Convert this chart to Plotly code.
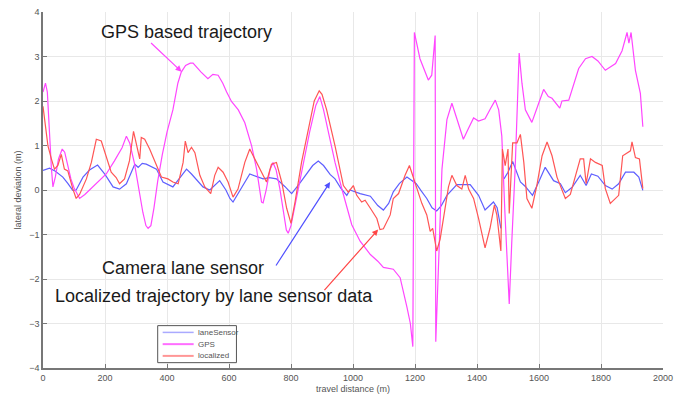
import plotly.graph_objects as go

# laneSensor (blue)
lane_x = [0, 21, 40, 64, 80, 96, 107, 129, 150, 172, 176, 200, 226, 247, 269, 296, 307, 320, 333, 366, 387, 419, 440, 463, 479, 500, 516, 538, 570, 590, 603, 613, 640, 667, 690, 710, 730, 753, 780, 802, 825, 850, 870, 888, 905, 926, 942, 960, 980, 990, 1023, 1056, 1080, 1098, 1115, 1130, 1150, 1174, 1204, 1220, 1238, 1255, 1270, 1285, 1303, 1335, 1378, 1405, 1426, 1453, 1465, 1477,
          None,
          1487, 1500, 1515, 1540, 1556, 1579, 1599, 1620, 1647, 1669, 1685, 1707, 1733, 1752, 1769, 1790, 1814, 1836, 1857, 1879, 1906, 1922, 1935]
lane_y = [0.44, 0.49, 0.42, 0.29, 0.15, -0.01, 0.0, 0.29, 0.45, 0.55, 0.56, 0.35, 0.07, 0.02, 0.14, 0.58, 0.51, 0.6, 0.58, 0.47, 0.18, 0.07, 0.25, 0.47, 0.36, 0.2, 0.07, 0.0, 0.21, 0.0, -0.19, -0.27, 0.05, 0.36, 0.3, 0.25, 0.28, 0.25, 0.08, -0.08, 0.12, 0.36, 0.55, 0.65, 0.55, 0.35, 0.25, 0.05, -0.12, 0.0, -0.08, -0.14, -0.35, -0.45, -0.3, -0.04, 0.15, 0.29, 0.14, -0.02, -0.19, -0.4, -0.47, -0.35, -0.12, 0.12, 0.12, -0.12, -0.45, -0.27, -0.4, -0.86,
          None,
          0.25, 0.4, 0.64, 0.18, 0.08, -0.12, 0.18, 0.51, 0.21, 0.14, -0.06, 0.06, 0.33, 0.10, 0.36, 0.31, 0.10, 0.02, 0.14, 0.40, 0.40, 0.29, -0.01]

# GPS (magenta)
gps_x = [0, 8, 14, 20, 27, 32, 40, 50, 62, 70, 80, 90, 100, 118, 135, 150, 175, 204, 230, 255, 269, 280, 295, 310, 322, 332, 339, 348, 358, 370, 385, 400, 419, 435, 446, 460, 475, 484, 490, 510, 532, 548, 565, 580, 592, 608, 630, 651, 673, 689, 705, 710, 720, 732, 742, 752, 764, 775, 785, 791, 800, 820, 840, 860, 880, 893, 905, 920, 942, 965, 980, 996, 1023, 1056, 1080, 1098, 1130, 1152, 1174, 1185, 1193, 1198, 1216, 1243, 1254, 1265, 1267, 1278, 1287, 1303, 1319, 1335, 1356, 1370, 1389, 1405, 1426, 1445, 1459, 1470, 1480, 1490, 1502, 1504, 1512, 1523, 1536, 1545, 1556, 1577, 1599, 1615, 1630, 1642, 1667, 1674, 1696, 1728, 1750, 1771, 1790, 1814, 1847, 1868, 1884, 1890, 1897, 1911, 1927, 1935]
gps_y = [2.2, 2.4, 2.2, 1.3, 0.5, 0.07, 0.3, 0.7, 0.92, 0.85, 0.55, 0.25, 0.05, -0.19, -0.1, 0.0, 0.15, 0.36, 0.65, 0.95, 1.21, 1.05, 0.6, 0.0, -0.5, -0.8, -0.86, -0.8, -0.4, 0.2, 0.8, 1.3, 1.8, 2.4, 2.65, 2.8, 2.85, 2.85, 2.8, 2.65, 2.5, 2.6, 2.58, 2.4, 2.21, 1.99, 1.8, 1.51, 0.99, 0.47, -0.27, -0.29, 0.0, 0.45, 0.62, 0.45, 0.03, -0.5, -0.9, -0.97, -0.8, -0.1, 0.6, 1.3, 1.9, 2.1, 1.8, 1.3, 0.62, 0.0, -0.4, -0.78, -1.15, -1.45, -1.6, -1.74, -1.78, -1.97, -2.63, -3.0, -3.52, 3.54, 2.95, 2.47, 2.58, 3.47, -3.41, -1.5, 0.47, 1.58, 1.95, 1.6, 1.14, 1.35, 1.62, 1.55, 1.6, 1.85, 2.02, 1.8, 1.21, -0.5, -2.48, -2.56, -1.2, 0.47, 3.08, 2.4, 1.8, 1.52, 1.95, 2.26, 2.1, 2.06, 1.84, 2.0, 2.02, 2.73, 2.95, 3.0, 2.9, 2.69, 2.84, 3.13, 3.54, 3.3, 3.54, 2.69, 2.17, 1.42]

# localized (red)
loc_x = [0, 16, 27, 37, 48, 59, 69, 80, 96, 107, 118, 140, 156, 172, 188, 204, 220, 236, 247, 263, 279, 292, 301, 312, 317, 328, 344, 360, 382, 403, 419, 436, 452, 459, 468, 479, 490, 506, 522, 541, 554, 565, 581, 597, 613, 629, 651, 667, 683, 705, 721, 737, 753, 770, 786, 800, 813, 834, 861, 875, 891, 900, 915, 942, 969, 985, 1001, 1012, 1028, 1039, 1056, 1077, 1087, 1098, 1120, 1130, 1147, 1168, 1182, 1195, 1211, 1222, 1238, 1249, 1257, 1270, 1281, 1297, 1308, 1319, 1335, 1351, 1362, 1373, 1389, 1405, 1426, 1442, 1456, 1464, 1477, 1482, 1491, 1500, 1504, 1515, 1529, 1540, 1551, 1561, 1577, 1593, 1610, 1626, 1642, 1658, 1674, 1685, 1701, 1717, 1733, 1744, 1752, 1766, 1782, 1804, 1814, 1830, 1857, 1870, 1884, 1895, 1900, 1911, 1924, 1935]
loc_y = [1.88, 0.99, 0.7, 0.47, 0.55, 0.8, 0.47, 0.43, 0.03, -0.19, -0.1, 0.25, 0.62, 1.14, 1.1, 0.77, 0.4, 0.28, 0.14, 0.25, 0.66, 1.32, 1.07, 0.7, 1.18, 1.14, 0.92, 0.66, 0.29, 0.25, 0.18, 0.14, 0.62, 1.1, 0.84, 0.96, 0.84, 0.33, 0.07, -0.08, 0.33, 0.51, 0.4, 0.18, -0.16, 0.02, 0.62, 0.92, 0.7, 0.4, 0.18, 0.58, 0.62, 0.18, -0.41, -0.75, -0.27, 0.62, 1.58, 2.0, 2.23, 2.15, 1.8, 0.99, 0.1, -0.05, 0.1, -0.12, -0.27, -0.23, -0.41, -0.64, -0.89, -0.87, -0.56, -0.19, -0.08, 0.33, 0.55, 0.29, -0.04, -0.3, -0.56, -0.93, -0.86, -1.37, -1.11, -0.41, 0.07, 0.33, 0.1, 0.02, 0.33, 0.02, -0.19, -0.64, -1.3, -0.86, -0.34, -0.56, -1.37, 0.92, 0.55, 0.92, -0.53, 1.06, 1.06, 1.25, 0.62, -0.19, -0.41, 0.1, 0.77, 1.08, 0.77, 0.29, 0.03, -0.19, -0.1, 0.33, 0.7, 0.7, 0.14, 0.7, 0.62, 0.55, 0.03, -0.3, -0.12, 0.77, 0.84, 0.88, 1.08, 0.73, 0.7, 0.03]

x_ticks = [0, 200, 400, 600, 800, 1000, 1200, 1400, 1600, 1800, 2000]
y_ticks = [-4, -3, -2, -1, 0, 1, 2, 3, 4]
series_names = ["laneSensor", "GPS", "localized"]
series_colors = ["rgb(95,95,255)", "rgb(255,70,255)", "rgb(255,85,85)"]
legend_colors = ["rgb(170,170,255)", "rgb(255,110,255)", "rgb(255,150,150)"]

fig = go.Figure()
for (xs, ys), name, col in zip([(lane_x, lane_y), (gps_x, gps_y), (loc_x, loc_y)], series_names, series_colors):
    fig.add_trace(go.Scatter(x=xs, y=ys, mode="lines", name=name,
                             line=dict(color=col, width=1.2), connectgaps=False))

ann_font = dict(family="Liberation Sans, Arial", size=18, color="#1a1a1a")
fig.add_annotation(x=447, y=2.66, ax=-32, ay=-30, xref="x", yref="y", text="",
                   showarrow=True, arrowhead=2, arrowsize=1, arrowwidth=1.2, arrowcolor="rgb(255,70,255)")
fig.add_annotation(x=926, y=0.18, ax=-55, ay=85, xref="x", yref="y", text="",
                   showarrow=True, arrowhead=2, arrowsize=1, arrowwidth=1.2, arrowcolor="rgb(80,80,255)")
fig.add_annotation(x=1081, y=-0.89, ax=-55, ay=62, xref="x", yref="y", text="",
                   showarrow=True, arrowhead=2, arrowsize=1, arrowwidth=1.2, arrowcolor="rgb(255,70,70)")
fig.add_annotation(x=464, y=3.55, xref="x", yref="y", text="GPS based trajectory",
                   showarrow=False, font=ann_font)
fig.add_annotation(x=451, y=-1.75, xref="x", yref="y", text="Camera lane sensor",
                   showarrow=False, font=ann_font)
fig.add_annotation(x=553, y=-2.39, xref="x", yref="y", text="Localized trajectory by lane sensor data",
                   showarrow=False, font=ann_font)

# compact legend box (MATLAB-style), drawn in paper coordinates
fig.add_shape(type="rect", xref="paper", yref="paper", x0=0.185, x1=0.312, y0=0.015, y1=0.119,
              line=dict(color="#555", width=1), fillcolor="white", layer="above")
for i, (name, col) in enumerate(zip(series_names, legend_colors)):
    yy = 0.1 - i * 0.033
    fig.add_shape(type="line", xref="paper", yref="paper", x0=0.193, x1=0.243, y0=yy, y1=yy,
                  line=dict(color=col, width=1.5 if i == 0 else 2), layer="above")
    fig.add_annotation(x=0.247, y=yy, xref="paper", yref="paper", text=name, showarrow=False,
                       xanchor="left", yanchor="middle",
                       font=dict(family="Liberation Sans, Arial", size=8, color="#555"))

axis_font = dict(family="Liberation Sans, Arial", size=9, color="#555")
fig.update_layout(
    width=689, height=407,
    margin=dict(l=43, r=26, t=7, b=39),
    paper_bgcolor="white", plot_bgcolor="white",
    showlegend=False,
    xaxis=dict(range=[0, 2000], tickvals=x_ticks, showgrid=True, gridcolor="#e8e8e8",
               showline=True, linecolor="#777", linewidth=1.5, ticks="inside", ticklen=4,
               tickcolor="#777", tickfont=axis_font, zeroline=False,
               title=dict(text="travel distance (m)", font=axis_font, standoff=4)),
    yaxis=dict(range=[-4, 4], tickvals=y_ticks, showgrid=True, gridcolor="#e8e8e8",
               showline=True, linecolor="#777", linewidth=1.5, ticks="inside", ticklen=4,
               tickcolor="#777", tickfont=axis_font, zeroline=False,
               title=dict(text="lateral deviation (m)", font=axis_font, standoff=6)),
)

fig.write_html("out.html", config={"displayModeBar": False},
               post_script="document.body.style.margin='0';document.body.style.padding='0';")
